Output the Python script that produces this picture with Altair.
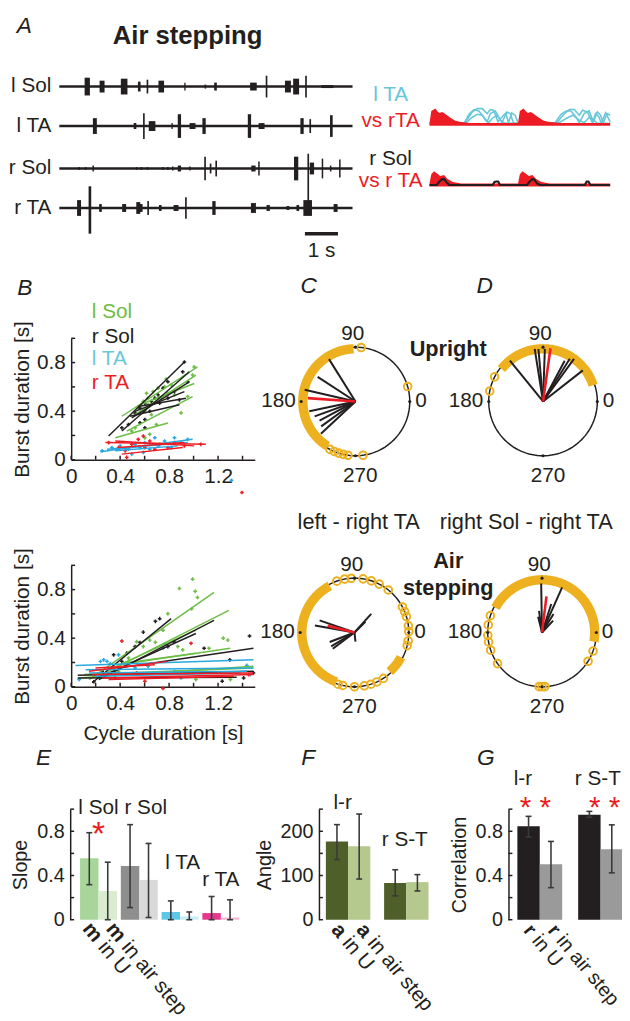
import math
import altair as alt
import numpy as np
import pandas as pd

M = 8
W_VIEW, H_VIEW = 622, 1013
FONT = "Liberation Sans"
INK = "#231f20"
GREEN = "#6dbe45"
CYAN = "#29a8e0"
LCYAN = "#68c7d9"
RED = "#ed1c24"
ORANGE = "#edb120"
ERR = "#3a3a3a"

# ---------------- data: panel A (raw EMG bursts) ----------------
A_channels = ["l Sol", "l TA", "r Sol", "r TA"]
A_baseline = [169, 129, 86, 46]
A_span = [0.0, 8.87]
lsol_t = [0.845, 1.293, 1.961, 2.418, 2.666, 3.084, 3.8, 4.418, 4.725, 5.872, 6.269, 6.916, 7.164, 7.463, 8.11]
lsol_up = [9, 6, 8, 5, 7, 6, 4, 2, 4, 4, 11, 6, 8, 11, 1.5]
lsol_dn = [9, 6, 8, 5, 7, 6, 4, 2, 4, 4, 11, 6, 8, 11, 1.5]
lsol_w = [0.16, 0.15, 0.2, 0.08, 0.05, 0.17, 0.04, 0.05, 0.08, 0.2, 0.05, 0.18, 0.18, 0.05, 0.36]
lta_t = [1.075, 2.29, 2.558, 2.806, 3.412, 3.633, 4.03, 4.379, 5.752, 6.119, 7.343, 7.591, 8.23]
lta_up = [8, 3, 13, 5, 3, 12, 3, 8, 12, 3, 8, 7, 11]
lta_dn = [8, 3, 13, 5, 3, 12, 3, 8, 12, 3, 8, 7, 11]
lta_w = [0.12, 0.08, 0.05, 0.2, 0.04, 0.1, 0.18, 0.1, 0.1, 0.18, 0.1, 0.05, 0.08]
rsol_t = [0.597, 0.797, 1.024, 2.337, 2.487, 2.666, 3.134, 3.284, 3.433, 3.633, 3.949, 4.409, 4.576,
          4.746, 5.872, 6.04, 7.164, 7.531, 7.642, 7.961, 8.209, 8.487]
rsol_up = [1.5, 1.5, 3, 1.5, 1.5, 1.5, 1.5, 1.5, 2, 3, 2, 12, 5, 8, 3, 7, 12, 15, 6, 10, 3, 9]
rsol_dn = [1.5, 1.5, 3, 1.5, 1.5, 1.5, 1.5, 1.5, 2, 3, 2, 12, 5, 8, 3, 7, 12, 37, 6, 10, 3, 9]
rsol_w = [0.045, 0.045, 0.045, 0.045, 0.045, 0.045, 0.045, 0.045, 0.045, 0.1, 0.045, 0.05, 0.05,
          0.05, 0.13, 0.045, 0.13, 0.05, 0.13, 0.045, 0.045, 0.045]
rta_t = [0.597, 0.925, 1.245, 1.961, 2.388, 2.478, 2.687, 3.054, 3.531, 3.83, 4.678, 5.872, 6.319,
         6.916, 7.215, 7.513, 8.358]
rta_up = [8, 22, 4, 4, 6, 4, 7, 3, 3, 11, 7, 5, 3, 2, 3, 8, 4]
rta_dn = [8, 26, 4, 4, 6, 4, 7, 3, 3, 11, 7, 5, 3, 2, 3, 8, 4]
rta_w = [0.12, 0.08, 0.08, 0.12, 0.12, 0.08, 0.05, 0.08, 0.15, 0.05, 0.1, 0.15, 0.1, 0.08, 0.08, 0.26, 0.12]
scale_bar_t = [7.43, 8.43]

# averaged envelopes (% of cycle, amplitude)
top_red_u = [0, 2, 6.5, 9, 11, 14, 16, 22, 28, 33, 45, 58, 98, 100, 104, 107, 109, 112, 114, 120, 126, 131, 145, 160, 200]
top_red_a = [1.5, 13.6, 16, 13, 11.6, 12.5, 11.6, 7.6, 4, 2.6, 1.5, 1.5, 1.5, 13.6, 16, 13, 11.6, 12.5, 11.6, 7.6, 4, 2.6, 1.5, 1.5, 1.5]
cyan1_u = [0, 38.3, 43.7, 49.2, 54.6, 60.1, 63.8, 67.4, 72.9, 76.5, 80.1, 85.6, 89.3, 92.9, 98.4,
           138.4, 145.7, 151.2, 156.6, 162.1, 165.8, 171.2, 176.7, 181.4, 185.8, 189.4, 192.3, 196.7, 200]
cyan1_a = [1, 1, 10.3, 15, 13.6, 7.6, 2.6, 11, 13.6, 7.6, 1.6, 12.6, 11, 1.6, 1,
           1, 10.3, 13.6, 13.6, 7.6, 1.6, 11, 13.6, 2.6, 12.6, 9.3, 1.6, 11, 9.3]
cyan2_u = [0, 38.3, 47.4, 52.8, 58.3, 63.8, 67.4, 71, 75.8, 82, 84.5, 87.4, 91, 94.7, 98.4,
           140.3, 149.4, 154.8, 160.3, 165.8, 169.4, 174.9, 180.3, 184, 187.6, 190.2, 195, 200]
cyan2_a = [1, 1, 12.6, 16, 16, 11, 15, 14.3, 2.6, 9.3, 11.6, 1.6, 11.6, 9.3, 1,
           1, 11, 15, 15, 9.3, 14.3, 12.6, 1.6, 11, 7.6, 1, 11.6, 2.6]
cyan3_u = [0, 40, 45.5, 52.8, 58.3, 62, 65.6, 69.2, 74.7, 78.3, 83.8, 142, 151.2, 158.5, 165.8, 171.2, 176.7, 182.1, 185.8, 200]
cyan3_a = [1, 1, 6, 10.3, 9.3, 4.3, 1.6, 6, 9.3, 4.3, 1, 1, 6, 9.3, 4.3, 1.6, 7, 4.3, 1, 1]
bot_red_u = [0, 2, 5, 8, 12, 16, 20, 26, 35, 98, 100, 103, 106, 110, 114, 118, 124, 133, 200]
bot_red_a = [1.5, 11, 14, 12, 9, 10, 6, 3, 1.5, 1.5, 11, 14, 12, 9, 10, 6, 3, 1.5, 1.5]
bot_blk_u = [0, 8, 11, 14, 16, 19, 22, 70, 72, 74, 76, 78, 108, 111, 114, 116, 119, 122, 172, 174, 176, 178, 200]
bot_blk_a = [1.5, 1.5, 5, 7.4, 7.4, 4, 1.5, 1.5, 4.5, 5, 5, 1.5, 1.5, 5, 7.4, 7, 3, 1.5, 1.5, 5, 5, 1.5, 1.5]
TOP_BASE, BOT_BASE = 130.7, 69.3

# ---------------- data: panel B ----------------
MUS = ["l Sol", "r Sol", "l TA", "r TA"]
MUS_COL = [GREEN, INK, CYAN, RED]
bt_lsol_x = [1.005, 0.777, 0.71, 0.669, 0.629, 0.589, 0.79, 0.844, 0.898, 0.683, 0.737, 0.602, 0.548, 0.656, 0.522, 0.495, 0.696, 0.629, 0.763, 0.817, 0.616, 0.992, 0.642, 0.952, 0.602]
bt_lsol_y = [0.764, 0.664, 0.589, 0.561, 0.507, 0.48, 0.547, 0.534, 0.385, 0.466, 0.507, 0.399, 0.426, 0.371, 0.263, 0.236, 0.29, 0.453, 0.602, 0.616, 0.547, 0.697, 0.209, 0.52, 0.18]
bt_rsol_x = [0.925, 0.911, 0.952, 0.79, 0.75, 0.71, 0.656, 0.602, 0.562, 0.522, 0.602, 0.642, 0.683, 0.844, 0.884, 0.562, 0.602, 0.468, 0.414, 0.723, 0.79]
bt_rsol_y = [0.805, 0.724, 0.642, 0.642, 0.589, 0.534, 0.48, 0.466, 0.426, 0.385, 0.331, 0.399, 0.507, 0.561, 0.493, 0.304, 0.263, 0.29, 0.263, 0.466, 0.507]
bt_lta_x = [0.253, 0.333, 0.4, 0.468, 0.522, 0.562, 0.602, 0.642, 0.683, 0.71, 0.763, 0.817, 0.844, 0.898, 0.952, 0.589, 0.495, 1.31]
bt_lta_y = [0.073, 0.1, 0.114, 0.087, 0.127, 0.1, 0.141, 0.087, 0.181, 0.114, 0.154, 0.1, 0.181, 0.141, 0.168, 0.06, 0.046, -0.17]
bt_rta_x = [0.306, 0.387, 0.441, 0.495, 0.548, 0.602, 0.642, 0.683, 0.723, 0.79, 0.844, 0.925, 1.059, 0.454, 0.589, 1.395]
bt_rta_y = [0.141, 0.1, 0.073, 0.127, 0.168, 0.1, 0.154, 0.087, 0.127, 0.1, 0.141, 0.114, 0.127, 0.019, 0.195, -0.27]
bt_fits = [
    [[0.414, 0.358, 1.032, 0.764], [0.36, 0.181, 0.79, 0.303], [0.454, 0.236, 0.992, 0.52], [0.522, 0.371, 1.019, 0.697], [0.562, 0.453, 1.005, 0.628]],
    [[0.306, 0.195, 0.925, 0.805], [0.414, 0.236, 0.965, 0.724], [0.495, 0.344, 0.965, 0.642], [0.522, 0.398, 0.925, 0.561], [0.548, 0.439, 0.938, 0.507], [0.481, 0.358, 0.885, 0.453]],
    [[0.239, 0.065, 0.992, 0.168], [0.293, 0.087, 0.952, 0.141], [0.36, 0.073, 0.871, 0.114]],
    [[0.28, 0.141, 1.1, 0.128], [0.36, 0.154, 1.005, 0.114], [0.414, 0.046, 0.911, 0.1], [0.387, 0.1, 0.925, 0.141]],
]
bb_lsol_x = [0.992, 0.884, 1.013, 1.032, 0.984, 0.79, 1.242, 1.28, 1.126, 0.75, 0.642, 0.589, 0.535, 0.688, 0.871, 0.911, 1.301, 1.019, 0.387, 0.468]
bb_lsol_y = [0.886, 0.81, 0.786, 0.736, 0.642, 0.602, 0.4, 0.384, 0.317, 0.466, 0.384, 0.331, 0.371, 0.366, 0.331, 0.304, 0.059, 0.059, 0.127, 0.236]
bb_rsol_x = [0.688, 0.723, 0.589, 0.562, 0.522, 0.454, 0.347, 0.414, 1.457, 1.086, 1.296, 1.234, 0.79, 0.839, 0.253, 0.185, 1.409, 1.489]
bb_rsol_y = [0.539, 0.561, 0.45, 0.364, 0.331, 0.277, 0.263, 0.209, 0.418, 0.317, 0.222, 0.046, 0.331, 0.371, 0.127, 0.041, 0.073, 0.114]
bb_lta_x = [0.239, 0.266, 0.293, 0.32, 0.387, 0.75, 0.763, 0.898, 1.462, 1.435, 0.522, 0.629, 0.065, 0.266, 0.844]
bb_lta_y = [0.209, 0.222, 0.209, 0.19, 0.263, 0.317, 0.352, 0.073, 0.1, 0.176, 0.154, 0.168, 0.059, 0.087, 0.127]
bb_rta_x = [0.75, 0.414, 0.979, 0.602, 0.535, 0.36, 1.449, 0.952]
bb_rta_y = [-0.014, 0.376, 0.358, 0.046, 0.114, 0.073, 0.1, 0.114]
bb_fits = [
    [[0.145, 0.059, 1.167, 0.778], [0.253, 0.1, 1.288, 0.629], [0.333, 0.154, 1.019, 0.466], [0.387, 0.181, 1.3, 0.317], [0.441, 0.195, 1.019, 0.276], [0.054, 0.073, 1.489, 0.168], [0.108, 0.1, 1.489, 0.154]],
    [[0.172, 0.033, 0.817, 0.561], [0.226, 0.059, 1.167, 0.547], [0.253, 0.087, 1.019, 0.439], [0.387, 0.154, 1.489, 0.317], [0.054, 0.095, 1.489, 0.127], [0.054, 0.073, 1.352, 0.079]],
    [[0.035, 0.176, 1.489, 0.222], [0.118, 0.141, 1.489, 0.154], [0.145, 0.114, 1.435, 0.127], [0.199, 0.087, 1.381, 0.114]],
    [[0.145, 0.127, 0.79, 0.209], [0.172, 0.1, 1.489, 0.114], [0.253, 0.073, 1.489, 0.1], [0.306, 0.059, 1.328, 0.087], [0.199, 0.154, 0.683, 0.181]],
]
B_xticks = [0, 0.2, 0.4, 0.6, 0.8, 1.0, 1.2, 1.4]
B_yticks = [0, 0.2, 0.4, 0.6, 0.8, 1.0]

# ---------------- data: panels C, D (phase plots, degrees) ----------------
pol_cx = [0.0, 3.4545, -0.018, 3.436]      # panel centres in circle radii
pol_cy = [0.0, 0.0, -4.2545, -4.2545]
pol_bands = [(0, 92, 238), (1, 18, 142), (2, 118, 250), (2, -48, -28), (3, -10, 152)]
pol_sparse = [
    [16, 84, 242, 247, 252, 257, 262, 278],
    [153, 169],
    [109, 100.5, 93.5, 81, 72, 63, 51.5, 28, 22.5, 17, 7, 1, -9, -14, -57.8, -65.7, -72.4, -79.6, -90, -102.5, -107.6],
    [162, 172, 183, 190, 199, 215, -20, -32, -87, -90, -93],
]
pol_spoke_a = [[122, 147, 167, 192, 200, 208, 216, 223], [129, 99, 95, 88, 62, 58, 54, 38],
               [170, 161, 201, 211, 217, 48, 44, 276], [91, 66, 104, 98, 72, 58, 47]]
pol_spoke_r = [[0.92, 0.83, 0.96, 0.87, 0.80, 0.75, 0.78, 0.87], [0.97, 0.98, 0.97, 0.97, 0.85, 0.93, 0.97, 0.93],
               [0.74, 0.68, 0.49, 0.5, 0.5, 0.46, 0.28, 0.17], [0.9, 0.91, 0.3, 0.4, 0.55, 0.4, 0.3]]
pol_mean_a = [176, 82, 166, 83]
pol_mean_r = [0.88, 0.99, 0.51, 0.67]

# ---------------- data: panels E, F, G ----------------
E_groups = ["l Sol", "r Sol", "l TA", "r TA"]
E_U = [0.555, 0.485, 0.07, 0.06]
E_U_lo = [0.317, 0.11, 0.0, 0.0]
E_U_hi = [0.787, 0.86, 0.17, 0.21]
E_air = [0.26, 0.36, 0.03, 0.02]
E_air_lo = [0.0, 0.02, 0.0, 0.0]
E_air_hi = [0.52, 0.69, 0.07, 0.18]
E_col_U = ["#a8d69a", "#8e8e8e", "#5cc7e8", "#e5388f"]
E_col_air = ["#d9ecd0", "#d9d9d9", "#c8edf7", "#f4b6d0"]
F_groups = ["l-r", "r S-T"]
F_U = [177, 83]
F_U_lo = [136, 54]
F_U_hi = [215, 113]
F_air = [166, 85]
F_air_lo = [92, 65]
F_air_hi = [239, 102]
F_col_U = ["#4e5f29", "#4e5f29"]
F_col_air = ["#b5c98e", "#b5c98e"]
G_groups = ["l-r", "r S-T"]
G_U = [0.845, 0.95]
G_U_lo = [0.747, 0.927]
G_U_hi = [0.935, 0.98]
G_air = [0.502, 0.637]
G_air_lo = [0.29, 0.424]
G_air_hi = [0.708, 0.858]
G_col_U = ["#231f20", "#231f20"]
G_col_air = ["#9a9a9a", "#9a9a9a"]
EG_yticks = [0, 0.2, 0.4, 0.6, 0.8, 1.0]
F_yticks = [0, 50, 100, 150, 200, 250]


# ---------------- helpers ----------------
def sx(dom, p0, p1):
    return alt.Scale(domain=list(dom), range=[p0 - M, p1 - M], nice=False, zero=False)


def sy(dom, pb, pt):
    return alt.Scale(domain=list(dom), range=[pb - M, pt - M], nice=False, zero=False)


def X(f, s, ax=None):
    return alt.X(f"{f}:Q", scale=s, axis=ax)


def Y(f, s, ax=None):
    return alt.Y(f"{f}:Q", scale=s, axis=ax)


def texts(df, s_x, s_y, **mk):
    p = dict(font=FONT, fontSize=21, baseline="middle", align="center")
    p.update(mk)
    enc = dict(x=X("x", s_x), y=Y("y", s_y), text="t:N")
    if "c" in df.columns:
        enc["color"] = alt.Color("c:N", scale=None)
    elif "color" not in p:
        p["color"] = INK
    return alt.Chart(df).mark_text(**p).encode(**enc)


def segs(df, s_x, s_y, **mk):
    enc = dict(x=X("x", s_x), x2="x2:Q", y=Y("y", s_y), y2="y2:Q")
    if "c" in df.columns:
        enc["color"] = alt.Color("c:N", scale=None)
    return alt.Chart(df).mark_rule(**mk).encode(**enc)


def inward_y_ticks(values, at, length, s_x, s_y):
    df = pd.DataFrame({"x": at, "x2": at + length, "y": values})
    return alt.Chart(df).mark_rule(color=INK, strokeWidth=1.5).encode(x=X("x", s_x), x2="x2:Q", y=Y("y", s_y))


def inward_x_ticks(values, at, length, s_x, s_y):
    df = pd.DataFrame({"x": values, "y": at, "y2": at + length})
    return alt.Chart(df).mark_rule(color=INK, strokeWidth=1.5).encode(x=X("x", s_x), y=Y("y", s_y), y2="y2:Q")


LAB04 = "(round(datum.value*10) % 4 == 0) ? format(datum.value, '~g') : ''"
TICK = 4.0

layers = []

# ================= Panel A: raw traces =================
SA_X = sx((0, 8.87), 60, 357)
SA_Y = sy((0, 190), 250, 60)
rows = []
for base, ts, ups, dns, ws in zip(A_baseline, [lsol_t, lta_t, rsol_t, rta_t], [lsol_up, lta_up, rsol_up, rta_up],
                                  [lsol_dn, lta_dn, rsol_dn, rta_dn], [lsol_w, lta_w, rsol_w, rta_w]):
    for t, u, d, w in zip(ts, ups, dns, ws):
        rows.append(dict(x=t - w / 2, x2=t + w / 2, y=base - d, y2=base + u))
bursts = pd.DataFrame(rows)
base_df = pd.DataFrame({"x": A_span[0], "x2": A_span[1], "y": A_baseline})
layers.append(alt.Chart(base_df).mark_rule(color=INK, strokeWidth=2.6).encode(x=X("x", SA_X), x2="x2:Q", y=Y("y", SA_Y)))
layers.append(alt.Chart(bursts).mark_rect(color=INK).encode(x=X("x", SA_X), x2="x2:Q", y=Y("y", SA_Y), y2="y2:Q"))
layers.append(texts(pd.DataFrame({"x": -0.24, "y": A_baseline, "t": A_channels}), SA_X, SA_Y, align="right"))
layers.append(alt.Chart(pd.DataFrame({"x": [scale_bar_t[0]], "x2": [scale_bar_t[1]], "y": [20]}))
              .mark_rule(color=INK, strokeWidth=3.5).encode(x=X("x", SA_X), x2="x2:Q", y=Y("y", SA_Y)))
layers.append(texts(pd.DataFrame({"x": [7.93], "y": [2], "t": ["1 s"]}), SA_X, SA_Y))
layers.append(texts(pd.DataFrame({"x": [-1.06], "y": [230], "t": ["A"]}), SA_X, SA_Y, fontSize=23, fontStyle="italic"))
layers.append(texts(pd.DataFrame({"x": [3.88], "y": [220], "t": ["Air stepping"]}), SA_X, SA_Y, fontSize=26, fontWeight="bold"))

# ================= Panel A: averaged envelopes =================
SV_X = sx((0, 200), 435, 618)
cy_rows = []
for k, (us, am) in enumerate([(cyan1_u, cyan1_a), (cyan2_u, cyan2_a), (cyan3_u, cyan3_a)]):
    cy_rows += [dict(id=k, x=u, y=TOP_BASE + a) for u, a in zip(us, am)]
layers.append(alt.Chart(pd.DataFrame(cy_rows)).mark_line(color=LCYAN, strokeWidth=1.6).encode(
    x=X("x", SV_X), y=Y("y", SA_Y), detail="id:N"))
top_red = pd.DataFrame({"x": top_red_u, "y": [TOP_BASE + a for a in top_red_a], "y2": TOP_BASE - 1.5})
layers.append(alt.Chart(top_red).mark_area(color=RED).encode(x=X("x", SV_X), y=Y("y", SA_Y), y2="y2:Q"))
bot_red = pd.DataFrame({"x": bot_red_u, "y": [BOT_BASE + a for a in bot_red_a], "y2": BOT_BASE - 1.5})
layers.append(alt.Chart(bot_red).mark_area(color=RED).encode(x=X("x", SV_X), y=Y("y", SA_Y), y2="y2:Q"))
bot_blk = pd.DataFrame({"x": bot_blk_u, "y": [BOT_BASE + a - 1.5 for a in bot_blk_a]})
layers.append(alt.Chart(bot_blk).mark_line(color=INK, strokeWidth=2.2).encode(x=X("x", SV_X), y=Y("y", SA_Y)))
layers.append(texts(pd.DataFrame({"x": -43, "y": [160, 134, 96, 73], "t": ["l TA", "vs rTA", "r Sol", "vs r TA"],
                                  "c": [LCYAN, RED, INK, RED]}), SV_X, SA_Y))


# ================= Panel B =================
def b_panel(pxs, pys, fits, y_bot, y_top, xtitle):
    s_x = sx((0, 1.5), 72, 258)
    s_y = sy((0, 1.0), y_bot, y_top)
    xkw = dict(orient="bottom", offset=(y_bot - M) - H_VIEW, values=B_xticks,
               labelExpr=LAB04, labelFlush=False, labelOverlap=False, labelFontSize=21, titleFontSize=21,
               titlePadding=9)
    xkw["title"] = xtitle if xtitle else None
    yax = alt.Axis(orient="left", offset=-(72 - M), values=B_yticks, labelExpr=LAB04,
                   labelFlush=False, labelOverlap=False, title="Burst duration [s]", labelFontSize=21,
                   titleFontSize=21, titlePadding=4)
    prow = []
    for c, xs_, ys_ in zip(MUS_COL, pxs, pys):
        prow += [dict(x=a, y=b, c=c) for a, b in zip(xs_, ys_)]
    lrow = []
    for c, fl in zip(MUS_COL, fits):
        lrow += [dict(x=f[0], y=f[1], x2=f[2], y2=f[3], c=c) for f in fl]
    out = [alt.Chart(pd.DataFrame(prow)).mark_point(shape="cross", filled=True, size=14, opacity=1).encode(
        x=X("x", s_x, alt.Axis(**xkw)), y=Y("y", s_y, yax), color=alt.Color("c:N", scale=None))]
    out.append(segs(pd.DataFrame(lrow), s_x, s_y, strokeWidth=1.5))
    out.append(inward_y_ticks(B_yticks, 0.0, TICK / 124, s_x, s_y))
    out.append(inward_x_ticks(B_xticks, 0.0, TICK / 123, s_x, s_y))
    return out, s_x, s_y


bl, BT_X, BT_Y = b_panel([bt_lsol_x, bt_rsol_x, bt_lta_x, bt_rta_x], [bt_lsol_y, bt_rsol_y, bt_lta_y, bt_rta_y],
                         bt_fits, 459, 336, None)
layers += bl
layers.append(texts(pd.DataFrame({"x": 0.169, "y": [1.22, 1.012, 0.829, 0.634], "t": MUS, "c": [GREEN, INK, LCYAN, RED]}),
                    BT_X, BT_Y, align="left"))
layers.append(texts(pd.DataFrame({"x": [-0.379], "y": [1.415], "t": ["B"]}), BT_X, BT_Y, fontSize=23, fontStyle="italic"))
bl, BB_X, BB_Y = b_panel([bb_lsol_x, bb_rsol_x, bb_lta_x, bb_rta_x], [bb_lsol_y, bb_rsol_y, bb_lta_y, bb_rta_y],
                         bb_fits, 689, 566, "Cycle duration [s]")
layers += bl

# ================= Panels C, D =================
SP_X = sx((-1, 1), 305, 415)
SP_Y = sy((-1, 1), 455, 345)


def pxy(p, a, r):
    return pol_cx[p] + r * math.cos(math.radians(a)), pol_cy[p] + r * math.sin(math.radians(a))


circ = []
for p in range(4):
    for a in range(0, 361, 3):
        x, y = pxy(p, a, 1.0)
        circ.append(dict(id=p, a=a, x=x, y=y))
layers.append(alt.Chart(pd.DataFrame(circ)).mark_line(color=INK, strokeWidth=1.5).encode(
    x=X("x", SP_X), y=Y("y", SP_Y), detail="id:N", order="a:Q"))
band = []
for k, (p, a0, a1) in enumerate(pol_bands):
    for a in np.arange(a0, a1 + 0.5, 1.0):
        x, y = pxy(p, a, 0.97)
        band.append(dict(id=k, a=a, x=x, y=y))
layers.append(alt.Chart(pd.DataFrame(band)).mark_line(color=ORANGE, strokeWidth=9.5).encode(
    x=X("x", SP_X), y=Y("y", SP_Y), detail="id:N", order="a:Q"))
sp = []
for p, angs in enumerate(pol_sparse):
    for a in angs:
        x, y = pxy(p, a, 1.0)
        sp.append(dict(x=x, y=y))
layers.append(alt.Chart(pd.DataFrame(sp)).mark_point(shape="circle", filled=False, size=60, strokeWidth=2,
                                                     color=ORANGE, opacity=1).encode(x=X("x", SP_X), y=Y("y", SP_Y)))
tk = []
for p in range(4):
    for a in (0, 90, 180, 270):
        x, y = pxy(p, a, 1.0)
        tk.append(dict(x=x, y=y))
layers.append(alt.Chart(pd.DataFrame(tk)).mark_point(shape="circle", filled=True, size=10, color=INK, opacity=1)
              .encode(x=X("x", SP_X), y=Y("y", SP_Y)))
spk = []
for p in range(4):
    for a, r in zip(pol_spoke_a[p], pol_spoke_r[p]):
        x, y = pxy(p, a, r)
        spk.append(dict(x=pol_cx[p], y=pol_cy[p], x2=x, y2=y))
layers.append(segs(pd.DataFrame(spk), SP_X, SP_Y, color=INK, strokeWidth=2))
mn = []
for p in range(4):
    x, y = pxy(p, pol_mean_a[p], pol_mean_r[p])
    mn.append(dict(x=pol_cx[p], y=pol_cy[p], x2=x, y2=y))
layers.append(segs(pd.DataFrame(mn), SP_X, SP_Y, color=RED, strokeWidth=2.6))
lab_c, lab_l, lab_r = [], [], []
for p in range(4):
    lab_c.append(dict(x=pol_cx[p] - 0.05, y=pol_cy[p] + 1.24, t="90"))
    lab_c.append(dict(x=pol_cx[p] + 0.09, y=pol_cy[p] - 1.37, t="270"))
    lab_l.append(dict(x=pol_cx[p] + 1.1, y=pol_cy[p], t="0"))
    lab_r.append(dict(x=pol_cx[p] - 1.1, y=pol_cy[p], t="180"))
layers.append(texts(pd.DataFrame(lab_c), SP_X, SP_Y))
layers.append(texts(pd.DataFrame(lab_l), SP_X, SP_Y, align="left"))
layers.append(texts(pd.DataFrame(lab_r), SP_X, SP_Y, align="right"))
layers.append(texts(pd.DataFrame({"x": [-0.864, 2.382], "y": [2.118, 2.118], "t": ["C", "D"]}), SP_X, SP_Y,
                    fontSize=23, fontStyle="italic"))
layers.append(texts(pd.DataFrame({"x": [1.709, 1.709, 1.709], "y": [0.964, -2.945, -3.436],
                                  "t": ["Upright", "Air", "stepping"]}), SP_X, SP_Y, fontSize=22, fontWeight="bold"))
layers.append(texts(pd.DataFrame({"x": [0.06, 3.145], "y": [-2.218, -2.218],
                                  "t": ["left - right TA", "right Sol - right TA"]}), SP_X, SP_Y, fontSize=22))


# ================= Panels E, F, G =================
def bar_panel(vals, lo, hi, cols, step, s_x, s_y, yax, bar_px):
    rows = []
    cap = 3.0 / bar_px
    for gi in range(len(vals[0])):
        for ci in range(2):
            x1 = gi * step + ci
            rows.append(dict(x=x1, x2=x1 + 1, xc=x1 + 0.5, cl=x1 + 0.5 - cap, cr=x1 + 0.5 + cap,
                             v=vals[ci][gi], z=0, lo=lo[ci][gi], hi=hi[ci][gi], col=cols[ci][gi]))
    df = pd.DataFrame(rows)
    out = [alt.Chart(df).mark_rect().encode(x=X("x", s_x), x2="x2:Q", y=Y("v", s_y, yax), y2="z:Q",
                                            color=alt.Color("col:N", scale=None)),
           alt.Chart(df).mark_rule(color=ERR, strokeWidth=1.6).encode(x=X("xc", s_x), y=Y("lo", s_y), y2="hi:Q"),
           alt.Chart(df).mark_rule(color=ERR, strokeWidth=1.6).encode(x=X("cl", s_x), x2="cr:Q", y=Y("lo", s_y)),
           alt.Chart(df).mark_rule(color=ERR, strokeWidth=1.6).encode(x=X("cl", s_x), x2="cr:Q", y=Y("hi", s_y))]
    return out


def rot_labels(sym, s_x, s_y, dx0, dy0, shift, extra, fs=21):
    xs_ = [0.5, 1.5 + extra]
    out = [texts(pd.DataFrame({"x": xs_, "y": 0, "t": [sym, sym]}), s_x, s_y, angle=50, align="left",
                 fontWeight="bold", dx=dx0, dy=dy0, fontSize=fs),
           texts(pd.DataFrame({"x": xs_, "y": 0, "t": ["in U", "in air step"]}), s_x, s_y, angle=50,
                 align="left", dx=dx0 + shift, dy=dy0, fontSize=fs)]
    return out


def yaxis(off_px, values, expr, title, pad):
    return alt.Axis(orient="left", offset=-(off_px - M), values=values, labelExpr=expr, labelFlush=False,
                    labelOverlap=False, title=title, labelFontSize=20, titleFontSize=20, titlePadding=pad)


# E
E_bar = 18.7
E_step = 41.3 / E_bar
SE_X = sx((0, 1), 81, 81 + E_bar)
SE_Y = sy((0, 1), 925, 813)
layers += bar_panel([E_U, E_air], [E_U_lo, E_air_lo], [E_U_hi, E_air_hi], [E_col_U, E_col_air], E_step, SE_X, SE_Y,
                    yaxis(71, EG_yticks, LAB04, "Slope", 6), E_bar)
layers.append(inward_y_ticks(EG_yticks, (71 - 81) / E_bar, TICK / E_bar, SE_X, SE_Y))
layers.append(texts(pd.DataFrame({"x": [1.0, E_step + 1.35, 2 * E_step + 1.14, 3 * E_step + 1.0],
                                  "y": [1.013, 1.013, 0.511, 0.363], "t": E_groups}), SE_X, SE_Y))
layers.append(texts(pd.DataFrame({"x": [1.0], "y": [0.678], "t": ["*"]}), SE_X, SE_Y, fontSize=34,
                    baseline="alphabetic", color=RED))
layers.append(texts(pd.DataFrame({"x": [-1.98], "y": [1.464], "t": ["E"]}), SE_X, SE_Y, fontSize=23, fontStyle="italic"))
layers += rot_labels("m", SE_X, SE_Y, 2.5, 6, 24.5, 5 / E_bar)

# F
F_bar = 22.5
F_step = 59 / F_bar
SF_X = sx((0, 1), 330, 330 + F_bar)
SF_Y = sy((0, 250), 925, 813)
layers += bar_panel([F_U, F_air], [F_U_lo, F_air_lo], [F_U_hi, F_air_hi], [F_col_U, F_col_air], F_step, SF_X, SF_Y,
                    yaxis(323, F_yticks, "(datum.value % 100 == 0) ? format(datum.value, 'd') : ''",
                          "Angle", 6), F_bar)
layers.append(inward_y_ticks(F_yticks, (323 - 330) / F_bar, TICK / F_bar, SF_X, SF_Y))
layers.append(texts(pd.DataFrame({"x": [0.756, F_step + 0.93], "y": [263, 179], "t": F_groups}), SF_X, SF_Y))
layers.append(texts(pd.DataFrame({"x": [-0.8], "y": [366], "t": ["F"]}), SF_X, SF_Y, fontSize=23, fontStyle="italic"))
layers += rot_labels("a", SF_X, SF_Y, 4, 6, 17.5, 3 / F_bar)

# G
G_bar = 22.7
G_step = 61.6 / G_bar
SG_X = sx((0, 1), 524, 524 + G_bar)
SG_Y = sy((0, 1), 925, 813)
layers += bar_panel([G_U, G_air], [G_U_lo, G_air_lo], [G_U_hi, G_air_hi], [G_col_U, G_col_air], G_step, SG_X, SG_Y,
                    yaxis(515, EG_yticks, LAB04, "Correlation", 6), G_bar)
layers.append(inward_y_ticks(EG_yticks, (515 - 524) / G_bar, TICK / G_bar, SG_X, SG_Y))
layers.append(texts(pd.DataFrame({"x": [0.25, G_step + 0.88], "y": [1.27, 1.27], "t": G_groups}), SG_X, SG_Y))
layers.append(texts(pd.DataFrame({"x": [0.8, G_step + 1.18], "y": [0.93, 0.93], "t": ["* *", "* *"]}), SG_X, SG_Y,
                    fontSize=30, baseline="alphabetic", color=RED))
layers.append(texts(pd.DataFrame({"x": [-1.41], "y": [1.464], "t": ["G"]}), SG_X, SG_Y, fontSize=23, fontStyle="italic"))
layers += rot_labels("r", SG_X, SG_Y, 5, 6, 13.5, 2 / G_bar, fs=20)

chart = (
    alt.layer(*layers)
    .resolve_scale(x="independent", y="independent", color="independent")
    .properties(width=W_VIEW, height=H_VIEW, autosize=alt.AutoSizeParams(type="none"), padding=0)
    .configure_view(strokeWidth=0)
    .configure_axis(labelFont=FONT, titleFont=FONT, labelColor=INK, titleColor=INK, domainColor=INK,
                    domainWidth=1.5, ticks=False, labelPadding=6, grid=False, titleFontWeight="normal")
)
chart.save("out.html", embed_options={"renderer": "svg", "actions": False})
